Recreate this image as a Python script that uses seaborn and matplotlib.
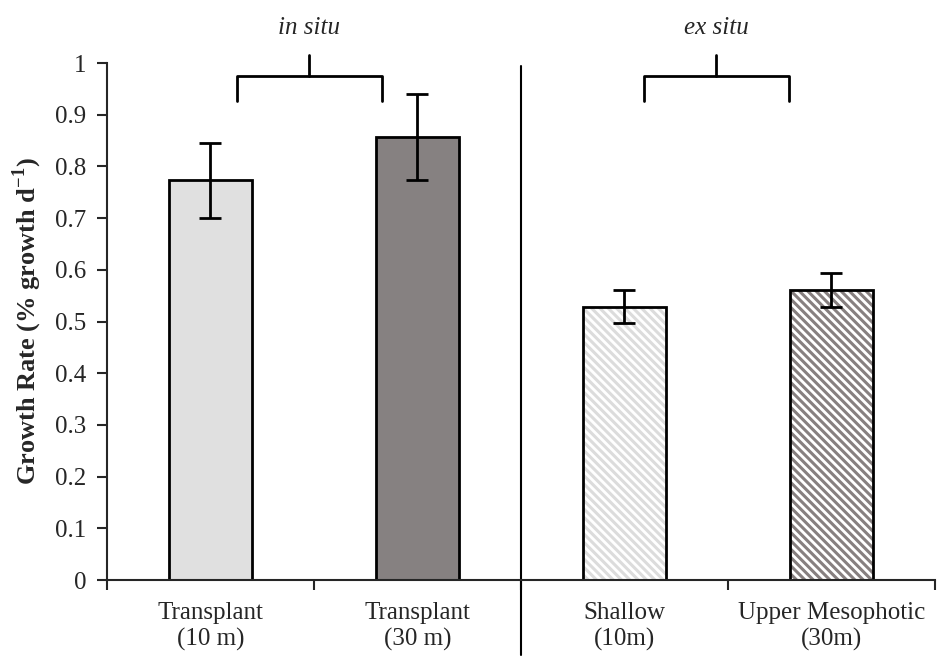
# Growth rate bar chart: in situ vs ex situ
import pandas as pd
import matplotlib.pyplot as plt
import matplotlib.colors as mcolors
import seaborn as sns

# dados
grupos = ['Transplant\n(10 m)', 'Transplant\n(30 m)', 'Shallow\n(10m)', 'Upper Mesophotic\n(30m)']
taxa = [0.773, 0.857, 0.529, 0.561]
erro = [0.073, 0.083, 0.032, 0.032]
cores = ['#e0e0e0', '#878080', '#ffffff', '#ffffff']
hachura_cor = [None, None, '#dcdcdc', '#878080']
yticks = [0, 0.1, 0.2, 0.3, 0.4, 0.5, 0.6, 0.7, 0.8, 0.9, 1]

df = pd.DataFrame({'grupo': grupos, 'taxa': taxa})

sns.set_style('white')
plt.rcParams['font.family'] = ['Liberation Serif', 'DejaVu Serif']
plt.rcParams['hatch.linewidth'] = 2.2

fig = plt.figure(figsize=(9.51, 6.6), dpi=100)
ax = fig.add_axes([0.1125, 0.1212, 0.8705, 0.7833])

sns.barplot(data=df, x='grupo', y='taxa', hue='grupo', palette=cores, legend=False,
            width=0.4, edgecolor='black', linewidth=2, errorbar=None, ax=ax)

for i, barra in enumerate(ax.patches):
    if hachura_cor[i] is not None:
        barra.set_facecolor('white')
        barra.set_edgecolor('black')
        barra.set_hatch('\\\\\\\\')
        barra._hatch_color = mcolors.to_rgba(hachura_cor[i])

ax.errorbar(range(len(grupos)), taxa, yerr=erro, fmt='none', ecolor='black',
            elinewidth=2, capsize=8, capthick=2)

ax.set_xlim(-0.5, 3.5)
ax.set_ylim(0, 1)
ax.set_yticks(yticks)
ax.set_yticklabels([f'{v:g}' for v in yticks])
ax.set_xlabel('')
ax.set_ylabel('Growth Rate (% growth d$^{\\mathregular{-1}}$)', fontsize=19, fontweight='bold',
              labelpad=8)
ax.tick_params(axis='y', labelsize=18, direction='out', length=7, width=1.5, left=True, pad=8)
ax.tick_params(axis='x', labelsize=18, length=0, pad=16)
ax.set_xticks([-0.5, 0.5, 1.5, 2.5, 3.5], minor=True)
ax.tick_params(axis='x', which='minor', direction='out', length=7, width=1.5, bottom=True)

sns.despine(ax=ax)
ax.spines['left'].set_linewidth(1.5)
ax.spines['bottom'].set_linewidth(1.5)

# linha divisoria
ax.plot([1.5, 1.5], [-0.145, 0.995], color='black', lw=1.5, clip_on=False,
        transform=ax.get_xaxis_transform())

# colchetes
for (x0, x1), rotulo in [((0.128, 0.828), 'in situ'), ((2.094, 2.795), 'ex situ')]:
    xm = (x0 + x1) / 2
    ax.plot([x0, x0, x1, x1], [0.926, 0.975, 0.975, 0.926], color='black', lw=2, clip_on=False)
    ax.plot([xm, xm], [0.975, 1.015], color='black', lw=2, clip_on=False)
    ax.text(xm, 1.068, rotulo, ha='center', va='center', fontsize=18, style='italic')

fig.savefig('out.png', dpi=100)
